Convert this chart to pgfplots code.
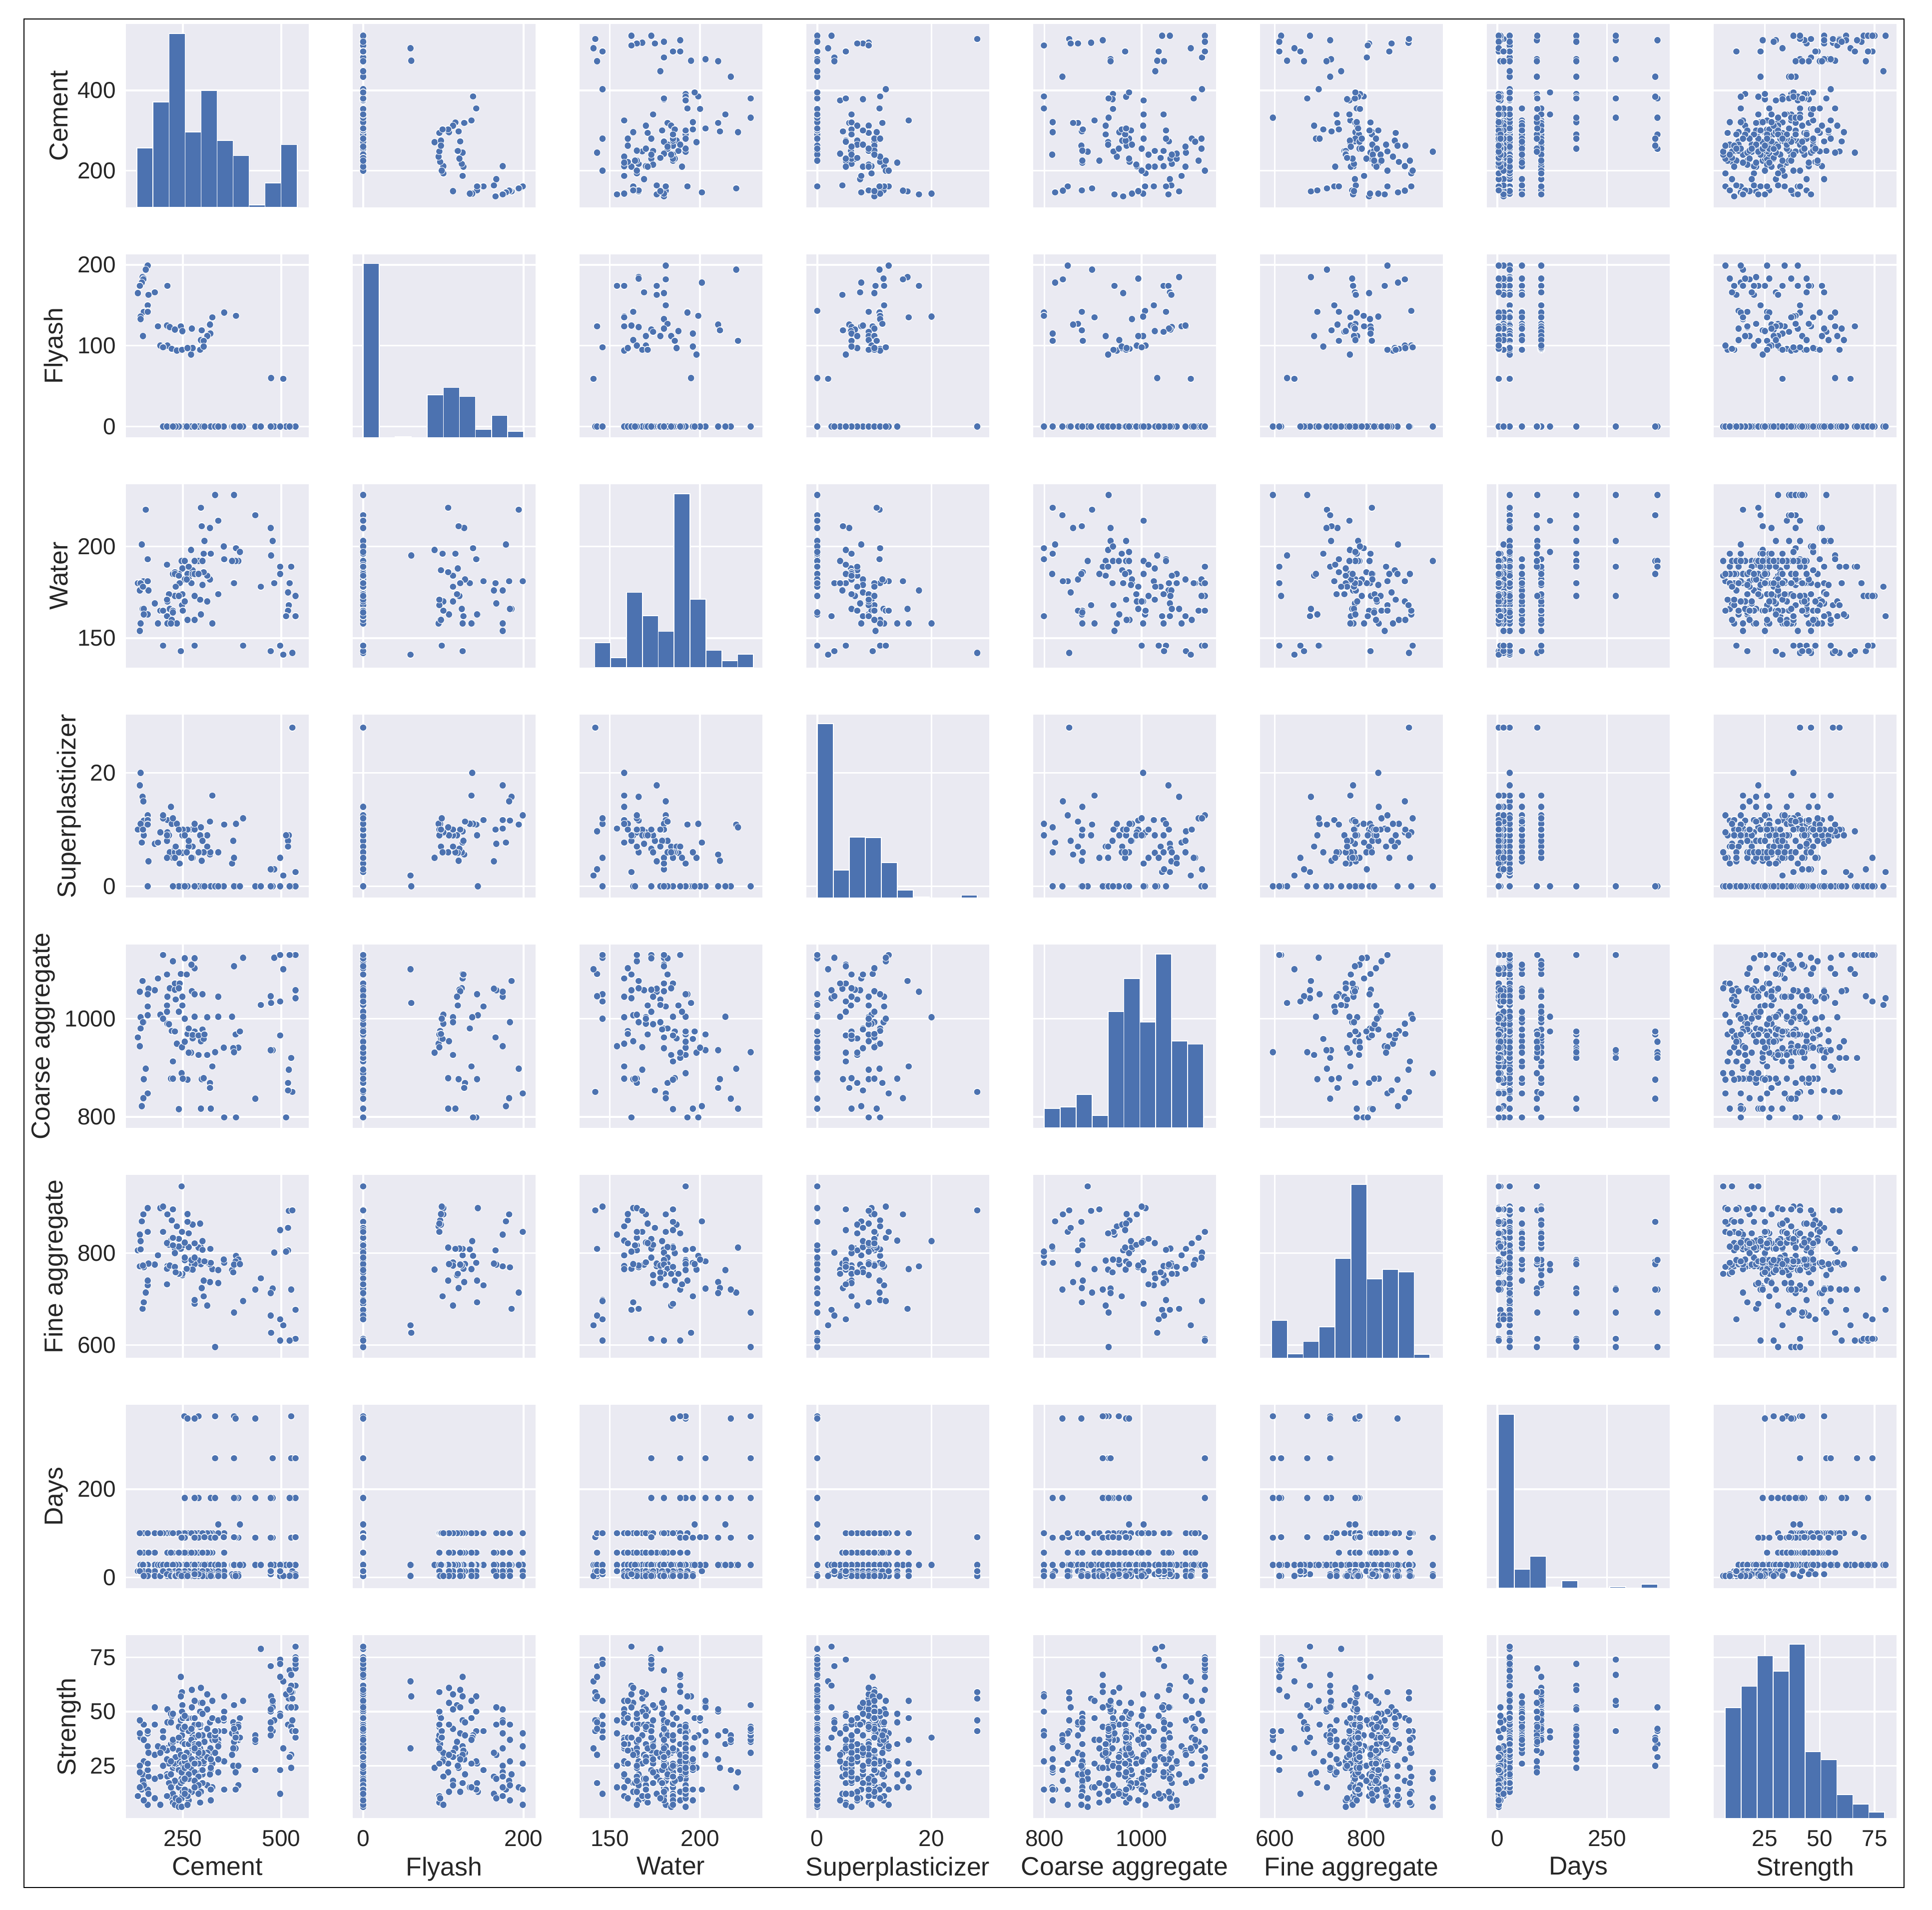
\documentclass[border=0pt]{standalone}
\usepackage{pgfplots}
\usepackage{pgfplotstable}
\usepackage{fontspec}
\setmainfont{Liberation Sans}
\pgfplotsset{compat=1.18}
\definecolor{bar}{HTML}{4C72B0}
\definecolor{panel}{HTML}{EAEAF2}
\definecolor{tx}{HTML}{262626}
\usetikzlibrary{plotmarks}
\makeatletter
\pgfdeclareplotmark{dotm}{\pgfsys@beginscope\pgflowlevelsynccm\pgfsys@invoke{1 J 1 1 1 RG 3 w 0 0 m 0.01 0 l S .298 .447 .69 RG 2.5 w 0 0 m 0.01 0 l S }\pgfsys@endscope}
\makeatother
% Ce Fl Wa SP Co Fi Da St : one row per mix
\pgfplotstableread{
Ce Fl Wa SP Co Fi Da St
161 199 181 12.5 848 846 28 26
156 194 220 10.9 898 714 28 15
148 185 166 15.8 1077 679 28 21
151 183 166 11.6 993 769 28 27
150 182 181 15 838 884 28 18
146 178 201 7.7 822 869 14 14
141 174 154 10.2 944 840 28 25
211 174 158 11.7 1045 772 28 33
141 174 176 17.8 1055 771 28 22
179 166 169 7.5 1058 775 28 30
136 165 180 10 962 806 14 11
163 163 176 4.4 1061 777 28 20
161 150 181 11.7 1025 730 28 23
161 143 163 0 1007 898 28 13
151 142 163 9 877 693 28 17
161 142 193 10.9 1050 740 56 26
355 141 193 10.9 799 779 28 41
385 137 199 11 799 794 28 39
143 136 158 20 1003 826 28 38
325 135 158 16 903 765 28 37
143 133 180 11 980 808 14 15
319 127 182 11.4 869 776 28 31
319 126 210 5.6 859 737 28 28
187 124 158 7.7 1082 795 28 34
245 124 143 9.7 1091 809 28 46
210 125 162 8 1090 766 28 32
217 123 166 6 1062 773 14 17
230 120 173 6.6 1059 810 28 29
273 121 180 10 1056 775 28 40
298 119 211 4.5 877 724 28 24
249 117 174 9 1045 752 28 36
249 118 188 5.9 1027 755 28 25
320 115 196 6 817 809 28 33
312 112 170 9 1003 780 28 42
149 112 178 10 993 773 28 18
312 112 184 7 926 686 28 31
296 106 221 10.4 817 812 28 22
296 107 163 9 954 776 28 44
303 106 186 6 879 740 28 26
193 100 165 9.5 1008 898 28 20
211 100 170 9.5 990 884 28 28
222 96 160 11 975 871 28 35
235 94 158 11 949 858 28 37
248 95 168 10 942 846 28 39
271 89 198 5 931 764 28 24
275 97 187 7 960 862 28 32
294 95 171 9 968 864 28 43
303 99 196 6 959 706 28 27
474 60 195 0 1032 627 28 57
505 59 141 1.9 1101 643 28 64
200 98 146 12 1000 901 28 41
262 97 160 10 969 885 28 47
247 0 192 0 889 945 28 19
225 0 185 5 913 895 28 24
519 0 168 9 896 892 28 56
528 0 142 28 851 893 28 56
262 0 185 0 876 868 28 20
517 0 175 8 854 855 28 52
220 0 158 14 878 827 28 35
250 0 165 10 878 817 28 30
517 0 165 7 869 806 28 44
240 0 185 0 816 814 28 15
512 0 162 9 799 803 28 58
321 0 196 0 817 779 28 23
290 0 192 0 926 784 28 29
391 0 192 0 941 786 28 37
255 0 192 0 953 785 28 21
384 0 192 0 968 782 28 33
280 0 192 0 974 776 28 27
375 0 192 4 1004 763 28 40
275 0 185 5 967 764 28 32
378 0 180 8 940 758 28 45
434 0 217 0 837 721 28 23
525 0 189 0 920 721 28 43
478 0 203 0 936 723 28 41
473 0 210 0 936 713 28 39
332 0 228 0 932 596 28 31
380 0 228 0 932 671 28 36
280 0 185 0 1004 690 28 22
265 0 189 7 931 843 28 27
497 0 185 5 966 850 28 49
230 0 186 6 974 800 28 25
290 0 185 6 966 812 28 33
265 0 182 8 980 813 28 30
300 0 179 8 978 826 28 39
215 0 174 9 989 818 28 26
255 0 170 9 1000 823 28 35
240 0 173 10 1014 831 28 32
210 0 171 9 1027 822 28 28
300 0 192 0 1050 807 28 21
280 0 160 10 1103 821 28 38
225 0 165 12 1117 833 28 36
200 0 165 12.5 1130 846 28 33
482 0 180 3 1124 801 28 46
255 0 182 0 1123 790 28 20
272 0 180 5 1110 785 28 34
380 0 180 5 1107 775 28 43
260 0 182 6 1090 766 28 31
230 0 185 5 1072 770 28 26
242 0 180 4 1072 755 28 27
240 0 184 6 1062 755 28 24
232 0 178 7 1039 758 28 29
340 0 174 6 1045 735 28 37
448 0 178 0 1028 745 28 79
210 0 190 5 1014 732 28 21
280 0 146 11 1050 698 28 44
403 0 146 12 1124 696 28 55
536 0 162 2.5 1042 677 28 80
536 0 162 2.5 1058 677 28 62
473 0 143 3 1046 664 28 71
497 0 146 5 1035 656 28 74
536 0 173 0 1130 614 28 75
521 0 180 0 1130 610 28 69
497 0 189 0 1130 610 28 66
305 0 203 0 968 782 28 30
354 0 200 0 941 786 28 46
395 0 197 0 974 776 28 47
340 0 214 0 1004 763 28 35
280 0 173 0 1123 790 28 32
225 0 164 0 878 817 28 17
497 0 146 0 1130 610 28 72
}\mix
% the same mixes at other ages
\pgfplotstableread{
Ce Fl Wa SP Co Fi Da St
528 0 142 28 851 893 3 41
528 0 142 28 851 893 14 46
528 0 142 28 851 893 91 59
161 199 181 12.5 848 846 100 40
151 183 166 11.6 993 769 100 44
141 174 154 10.2 944 840 100 46
211 174 158 11.7 1045 772 100 51
179 166 169 7.5 1058 775 100 52
161 150 181 11.7 1025 730 100 41
355 141 193 10.9 799 779 100 57
325 135 158 16 903 765 100 55
319 127 182 11.4 869 776 100 45
245 124 143 9.7 1091 809 100 66
273 121 180 10 1056 775 100 60
249 117 174 9 1045 752 100 53
312 112 170 9 1003 780 100 58
296 107 163 9 954 776 100 61
248 95 168 10 942 846 100 59
294 95 171 9 968 864 100 50
222 96 160 11 975 871 100 48
275 97 187 7 960 862 100 47
200 98 146 12 1000 901 100 38
193 100 165 9.5 1008 898 100 31
161 199 181 12.5 848 846 56 34
151 183 166 11.6 993 769 56 37
141 174 154 10.2 944 840 56 40
211 174 158 11.7 1045 772 56 45
179 166 169 7.5 1058 775 56 44
163 163 176 4.4 1061 777 56 31
355 141 193 10.9 799 779 56 50
325 135 158 16 903 765 56 47
319 127 182 11.4 869 776 56 39
245 124 143 9.7 1091 809 56 57
273 121 180 10 1056 775 56 52
312 112 170 9 1003 780 56 51
296 107 163 9 954 776 56 54
248 95 168 10 942 846 56 50
294 95 171 9 968 864 56 44
161 199 181 12.5 848 846 14 14
151 183 166 11.6 993 769 14 16
141 174 154 10.2 944 840 14 15
211 174 158 11.7 1045 772 14 20
179 166 169 7.5 1058 775 14 19
163 163 176 4.4 1061 777 14 12
355 141 193 10.9 799 779 14 27
325 135 158 16 903 765 14 26
319 127 182 11.4 869 776 14 21
245 124 143 9.7 1091 809 14 30
273 121 180 10 1056 775 14 28
312 112 170 9 1003 780 14 29
296 107 163 9 954 776 14 30
248 95 168 10 942 846 14 26
294 95 171 9 968 864 14 33
161 199 181 12.5 848 846 3 7
151 183 166 11.6 993 769 3 9
211 174 158 11.7 1045 772 3 11
179 166 169 7.5 1058 775 3 10
355 141 193 10.9 799 779 3 14
325 135 158 16 903 765 3 15
245 124 143 9.7 1091 809 3 17
273 121 180 10 1056 775 3 13
312 112 170 9 1003 780 3 16
296 107 163 9 954 776 3 13
248 95 168 10 942 846 3 11
294 95 171 9 968 864 3 8
222 96 160 11 975 871 3 10
193 100 165 9.5 1008 898 3 7
225 0 185 5 913 895 100 37
220 0 158 14 878 827 100 49
250 0 165 10 878 817 100 47
265 0 189 7 931 843 100 41
290 0 185 6 966 812 100 44
300 0 179 8 978 826 100 54
255 0 170 9 1000 823 100 48
240 0 173 10 1014 831 100 43
280 0 160 10 1103 821 100 55
225 0 165 12 1117 833 100 49
272 0 180 5 1110 785 100 42
340 0 174 6 1045 735 100 46
225 0 185 5 913 895 56 33
220 0 158 14 878 827 56 45
250 0 165 10 878 817 56 42
265 0 189 7 931 843 56 35
290 0 185 6 966 812 56 39
300 0 179 8 978 826 56 49
255 0 170 9 1000 823 56 43
240 0 173 10 1014 831 56 38
280 0 160 10 1103 821 56 47
272 0 180 5 1110 785 56 37
225 0 185 5 913 895 14 17
220 0 158 14 878 827 14 27
250 0 165 10 878 817 14 24
265 0 189 7 931 843 14 19
230 0 186 6 974 800 14 18
290 0 185 6 966 812 14 26
265 0 182 8 980 813 14 21
300 0 179 8 978 826 14 31
215 0 174 9 989 818 14 17
255 0 170 9 1000 823 14 27
240 0 173 10 1014 831 14 23
280 0 160 10 1103 821 14 32
200 0 165 12.5 1130 846 14 25
340 0 174 6 1045 735 14 34
225 0 185 5 913 895 7 12
220 0 158 14 878 827 7 21
250 0 165 10 878 817 7 18
265 0 189 7 931 843 7 13
290 0 185 6 966 812 7 20
300 0 179 8 978 826 7 23
255 0 170 9 1000 823 7 19
280 0 160 10 1103 821 7 26
210 0 171 9 1027 822 7 11
340 0 174 6 1045 735 7 28
378 0 180 8 940 758 7 33
375 0 192 4 1004 763 7 30
225 0 185 5 913 895 3 8
220 0 158 14 878 827 3 15
250 0 165 10 878 817 3 13
265 0 189 7 931 843 3 9
290 0 185 6 966 812 3 12
300 0 179 8 978 826 3 17
255 0 170 9 1000 823 3 14
280 0 160 10 1103 821 3 18
230 0 185 5 1072 770 3 7
242 0 180 4 1072 755 3 9
240 0 184 6 1062 755 3 6
232 0 178 7 1039 758 3 10
340 0 174 6 1045 735 3 22
378 0 180 8 940 758 3 25
247 0 192 0 889 945 7 10
262 0 185 0 876 868 7 11
240 0 185 0 816 814 7 9
321 0 196 0 817 779 7 14
290 0 192 0 926 784 7 16
391 0 192 0 941 786 7 25
255 0 192 0 953 785 7 12
384 0 192 0 968 782 7 22
280 0 192 0 974 776 7 15
525 0 189 0 920 721 7 30
536 0 162 2.5 1042 677 7 52
536 0 162 2.5 1058 677 7 38
473 0 143 3 1046 664 7 45
497 0 146 5 1035 656 7 48
247 0 192 0 889 945 3 6
262 0 185 0 876 868 3 7
321 0 196 0 817 779 3 9
391 0 192 0 941 786 3 16
384 0 192 0 968 782 3 14
525 0 189 0 920 721 3 24
536 0 173 0 1130 614 3 41
521 0 180 0 1130 610 3 29
497 0 189 0 1130 610 3 23
505 59 141 1.9 1101 643 3 33
473 0 143 3 1046 664 14 42
497 0 146 5 1035 656 14 12
321 0 196 0 817 779 90 24
290 0 192 0 926 784 90 32
391 0 192 0 941 786 90 44
255 0 192 0 953 785 90 27
384 0 192 0 968 782 90 41
280 0 192 0 974 776 90 35
434 0 217 0 837 721 90 39
525 0 189 0 920 721 90 59
478 0 203 0 936 723 90 54
473 0 210 0 936 713 90 50
332 0 228 0 932 596 90 37
380 0 228 0 932 671 91 43
536 0 173 0 1130 614 91 70
305 0 203 0 968 782 91 36
354 0 200 0 941 786 91 47
247 0 192 0 889 945 90 22
340 0 214 0 1004 763 120 41
395 0 197 0 974 776 120 38
321 0 196 0 817 779 180 28
290 0 192 0 926 784 180 31
391 0 192 0 941 786 180 43
255 0 192 0 953 785 180 24
384 0 192 0 968 782 180 40
280 0 192 0 974 776 180 34
434 0 217 0 837 721 180 36
525 0 189 0 920 721 180 62
478 0 203 0 936 723 180 52
473 0 210 0 936 713 180 51
332 0 228 0 932 596 180 39
380 0 228 0 932 671 180 42
536 0 173 0 1130 614 180 72
521 0 180 0 1130 610 180 60
332 0 228 0 932 596 270 41
380 0 228 0 932 671 270 53
478 0 203 0 936 723 270 55
525 0 189 0 920 721 270 67
536 0 173 0 1130 614 270 74
332 0 228 0 932 596 365 41
380 0 228 0 932 671 365 42
290 0 192 0 926 784 365 35
384 0 192 0 968 782 360 38
280 0 192 0 974 776 360 33
254 0 192 0 953 785 365 29
262 0 185 0 876 868 360 25
525 0 189 0 920 721 365 52
434 0 217 0 837 721 360 37
}\age
% histograms: left bin edge and bar height
\pgfplotstableread{
134 217
174.6 385
215.2 635
255.8 275
296.4 427
337 245
377.6 189
418.2 9
458.8 90
499.4 229
540 0
}\histA
\pgfplotstableread{
0 633
20 0
40 2
60 0
80 156
100 182
120 149
140 30
160 80
180 22
200 0
}\histB
\pgfplotstableread{
141.7 91
150.49 36
159.28 274
168.07 190
176.86 132
185.65 634
194.44 250
203.23 63
212.02 25
220.81 49
229.6 0
}\histC
\pgfplotstableread{
0 635
2.8 101
5.6 221
8.4 219
11.2 128
14 28
16.8 3
19.6 0
22.4 0
25.2 9
28 0
}\histD
\pgfplotstableread{
800 71
832.7 77
865.4 122
898.1 46
930.8 425
963.5 545
996.2 387
1028.9 634
1061.6 317
1094.3 305
1127 0
}\histE
\pgfplotstableread{
593 138
627.6 15
662.2 60
696.8 114
731.4 364
766 634
800.6 289
835.2 324
869.8 314
904.4 13
939 0
}\histF
\pgfplotstableread{
2 548
38.3 60
74.6 101
110.9 3
147.2 23
183.5 0
219.8 0
256.1 5
292.4 0
328.7 13
365 0
}\histG
\pgfplotstableread{
6.9 347
14.17 414
21.44 510
28.71 462
35.98 547
43.25 209
50.52 184
57.79 75
65.06 45
72.33 20
79.6 0
}\histH
% var index, label, x limits, x ticks, y limits, y ticks
\newcommand\defvar[8]{%
  \expandafter\def\csname lab#1\endcsname{#2}%
  \expandafter\def\csname xa#1\endcsname{#3}%
  \expandafter\def\csname xb#1\endcsname{#4}%
  \expandafter\def\csname xt#1\endcsname{#5}%
  \expandafter\def\csname ya#1\endcsname{#6}%
  \expandafter\def\csname yb#1\endcsname{#7}%
  \expandafter\def\csname yt#1\endcsname{#8}}
\defvar{0}{Cement}{105.7}{569.6}{250,500}{108.5}{565}{200,400}
\defvar{1}{Flyash}{-13}{215}{0,200}{-13.6}{213}{0,100,200}
\defvar{2}{Water}{133.3}{234.5}{150,200}{134}{233.7}{150,200}
\defvar{3}{Superplasticizer}{-1.9}{30.1}{0,20}{-2.03}{30.3}{0,20}
\defvar{4}{Coarse aggregate}{777}{1153}{800,1000}{777.6}{1150.7}{800,1000}
\defvar{5}{Fine aggregate}{568}{967}{600,800}{572}{970}{600,800}
\defvar{6}{Days}{-24}{393}{0,250}{-24.5}{390.6}{0,200}
\defvar{7}{Strength}{1.66}{85}{25,50,75}{0.74}{85.3}{25,50,75}
\newcommand\setpanel[2]{% row, column
  \edef\xa{\csname xa#2\endcsname}\edef\xb{\csname xb#2\endcsname}%
  \edef\xt{\csname xt#2\endcsname}\edef\ya{\csname ya#1\endcsname}%
  \edef\yb{\csname yb#1\endcsname}\edef\yt{\csname yt#1\endcsname}%
  \edef\xl{\csname lab#2\endcsname}\edef\yl{\csname lab#1\endcsname}%
  \pgfmathsetmacro\px{50.4+90.8*#2}%
  \pgfmathsetmacro\py{681.4-92.1*#1}%
  \ifnum#1=7 \def\xsty{showx}\else\def\xsty{nox}\fi
  \ifnum#2=0 \def\ysty{showy}\else\def\ysty{noy}\fi}
\pgfplotsset{
  showx/.style={xlabel={\xl}},
  nox/.style={xticklabels={,,,,}},
  showy/.style={ylabel={\yl}},
  noy/.style={yticklabels={,,,,}},
  pstyle/.style={
    scale only axis,width=73.2pt,height=73.3pt,
    at={(\px pt,\py pt)},anchor=south west,
    xmin=\xa,xmax=\xb,ymin=\ya,ymax=\yb,
    xtick/.expanded={\xt},ytick/.expanded={\yt},
    axis background/.style={fill=panel},
    axis line style={draw=none},
    major tick length=0pt,tick style={draw=none},
    grid=major,grid style={white,line width=.7pt},
    /pgf/number format/1000 sep={},
    /pgf/number format/assume math mode=true,
    tick label style={font=\fontsize{9.2}{11}\selectfont,text=tx},
    xticklabel style={inner sep=0pt,yshift=-4.6pt},
    yticklabel style={inner sep=0pt,xshift=-3.8pt},
    label style={font=\fontsize{10.35}{12}\selectfont,text=tx},
    xlabel style={inner sep=0pt,yshift=-4pt},
    ylabel style={inner sep=0pt,yshift=3.6pt},
  },
  dots/.style={only marks,mark=dotm},
}
\newcommand\diag[3]{%
  \setpanel{#1}{#1}%
  \begin{axis}[pstyle,\xsty,\ysty]\end{axis}%
  \begin{axis}[scale only axis,width=73.2pt,height=73.3pt,
    at={(\px pt,\py pt)},anchor=south west,hide axis,
    xmin=\xa,xmax=\xb,ymin=0,ymax=#3]
    \addplot[ybar interval,fill=bar,draw=white,line width=.35pt] table[x index=0,y index=1]{#2};
  \end{axis}}
\begin{document}
\begin{tikzpicture}
\path[use as bounding box] (0,0) rectangle (773.4pt,764.4pt);
\draw[black,line width=.55pt] (9.6pt,9pt) rectangle (762.2pt,756.8pt);
\foreach \r in {0,...,7}{\foreach \c in {0,...,7}{%
  \ifnum\r=\c\else
    \setpanel{\r}{\c}%
    \begin{axis}[pstyle,\xsty,\ysty]
      \addplot[dots] table[x index=\c,y index=\r]{\mix};
      \ifnum\r>5 \addplot[dots] table[x index=\c,y index=\r]{\age};
      \else\ifnum\c>5 \addplot[dots] table[x index=\c,y index=\r]{\age};\fi\fi
    \end{axis}%
  \fi}}
\diag{0}{\histA}{669}
\diag{1}{\histB}{667}
\diag{2}{\histC}{668}
\diag{3}{\histD}{668}
\diag{4}{\histE}{668}
\diag{5}{\histF}{668}
\diag{6}{\histG}{577}
\diag{7}{\histH}{575}
\end{tikzpicture}
\end{document}
